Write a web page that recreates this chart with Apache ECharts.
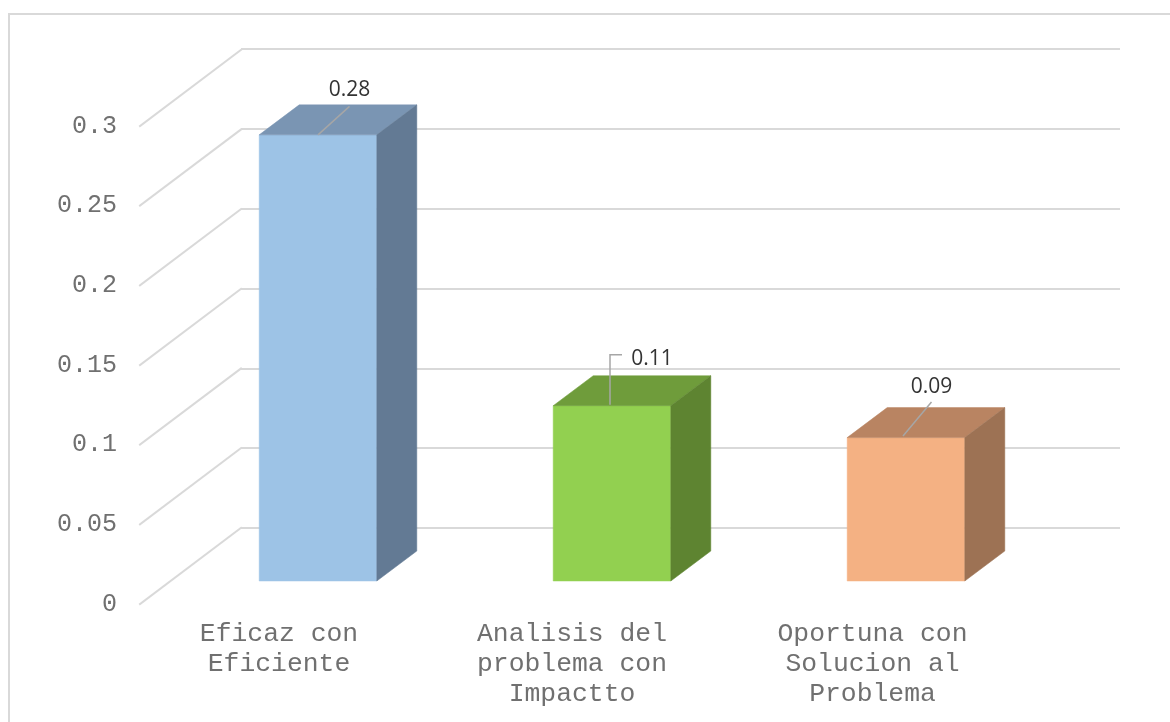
<!DOCTYPE html>
<html>
<head>
<meta charset="utf-8">
<style>html,body{margin:0;padding:0;background:#fff}#c{width:1170px;height:722px}</style>
<script src="https://cdn.jsdelivr.net/npm/echarts@6/dist/echarts.min.js"></script>
</head>
<body>
<div id="c"></div>
<script>
var categories = ['Eficaz con\nEficiente', 'Analisis del\nproblema con\nImpactto', 'Oportuna con\nSolucion al\nProblema'];
var values = [0.28, 0.11, 0.09];
var valueLabels = ['0.28', '0.11', '0.09'];
var tickValues = [0, 0.05, 0.1, 0.15, 0.2, 0.25, 0.3];

var frontColors = ['#9DC3E6', '#92D050', '#F4B183'];
var topColors = ['#7A95B3', '#6F9C3B', '#B98462'];
var sideColors = ['#637A94', '#5E8431', '#9D7254'];

var WALL = [101, -76.2];
var BAR_BASE = [31, -23];
var BAR_DEPTH = [40, -30];
var BAR_RATIO = 0.4;
var leaders = [
  {pts: [[0, 0], [31.5, -28.5]], label: [31.5, -44.5]},
  {pts: [[-2, -1], [-2, -51], [10, -51]], label: [40, -47]},
  {pts: [[-3, -1.7], [25.5, -35.7]], label: [25.5, -51]}
];
var labelPads = [16, 18, 5];
var GRID_COLOR = '#D9D9D9';

function poly(points, fill) {
  return {type: 'polygon', shape: {points: points}, style: {fill: fill, stroke: fill, lineWidth: 0.5}};
}

function renderBar(params, api) {
  var i = api.value(0);
  var top = api.coord([i, api.value(1)]);
  var base = api.coord([i, 0]);
  var w = api.size([1, 0])[0] * BAR_RATIO;
  var xc = top[0] + BAR_BASE[0], yt = top[1] + BAR_BASE[1], yb = base[1] + BAR_BASE[1];
  var x0 = xc - w / 2, x1 = xc + w / 2, dx = BAR_DEPTH[0], dy = BAR_DEPTH[1];
  var L = leaders[i];
  return {
    type: 'group',
    children: [
      poly([[x0, yb], [x1, yb], [x1, yt], [x0, yt]], frontColors[i]),
      poly([[x0, yt], [x1, yt], [x1 + dx, yt + dy], [x0 + dx, yt + dy]], topColors[i]),
      poly([[x1, yb], [x1 + dx, yb + dy], [x1 + dx, yt + dy], [x1, yt]], sideColors[i]),
      {type: 'polyline', shape: {points: L.pts.map(function (p) { return [xc + p[0], yt + p[1]]; })},
       style: {fill: 'none', stroke: '#A6A6A6', lineWidth: 1.5}},
      {type: 'text', x: xc + L.label[0], y: yt + L.label[1],
       style: {text: valueLabels[i], fill: '#333333', font: '21px "Open Sans"', align: 'center', verticalAlign: 'middle'}}
    ]
  };
}

function renderDiagonal(params, api) {
  var y = api.coord([0, api.value(0)])[1];
  var x = params.coordSys.x;
  return {type: 'line', shape: {x1: x, y1: y, x2: x + WALL[0], y2: y + WALL[1]},
          style: {stroke: GRID_COLOR, lineWidth: 2, lineCap: 'square'}};
}

var monoFont = '"Liberation Mono"';
var monoColor = '#707070';
var richStyles = {};
labelPads.forEach(function (pad, i) {
  richStyles['c' + i] = {fontFamily: monoFont, color: monoColor, fontSize: 26.4, lineHeight: 30, padding: [0, pad, 0, 0]};
});

var chart = echarts.init(document.getElementById('c'), null, {renderer: 'canvas'});
chart.setOption({
  animation: false,
  backgroundColor: '#fff',
  graphic: [{type: 'rect', shape: {x: 9, y: 14, width: 1300, height: 900},
             style: {fill: 'none', stroke: GRID_COLOR, lineWidth: 2}, z: -1}],
  grid: [
    {left: 140, width: 882, top: 126, height: 478},
    {left: 241, width: 879, top: 49, height: 479}
  ],
  xAxis: [
    {type: 'category', gridIndex: 0, data: categories,
     axisLine: {show: false}, axisTick: {show: false}, splitLine: {show: false},
     axisLabel: {margin: 15, interval: 0, lineHeight: 30, rich: richStyles,
       formatter: function (value, idx) {
         return value.split('\n').map(function (s) { return '{c' + idx + '|' + s + '}'; }).join('\n');
       }}},
    {type: 'category', gridIndex: 1, data: categories, show: false}
  ],
  yAxis: [
    {type: 'value', gridIndex: 0, min: 0, max: 0.3, interval: 0.05,
     axisLine: {show: false}, axisTick: {show: false}, splitLine: {show: false},
     axisLabel: {fontSize: 25, margin: 23, fontFamily: monoFont, color: monoColor}},
    {type: 'value', gridIndex: 1, min: 0, max: 0.3, interval: 0.05,
     axisLine: {show: false}, axisTick: {show: false}, axisLabel: {show: false},
     splitLine: {show: true, lineStyle: {color: GRID_COLOR, width: 2}}}
  ],
  series: [
    {type: 'custom', xAxisIndex: 0, yAxisIndex: 0, clip: false, silent: true, z: 1,
     data: tickValues.map(function (v) { return [v]; }), encode: {y: 0},
     renderItem: renderDiagonal},
    {type: 'custom', xAxisIndex: 0, yAxisIndex: 0, clip: false, silent: true, z: 5,
     data: values.map(function (v, i) { return [i, v]; }), encode: {x: 0, y: 1},
     renderItem: renderBar}
  ]
});
</script>
</body>
</html>
